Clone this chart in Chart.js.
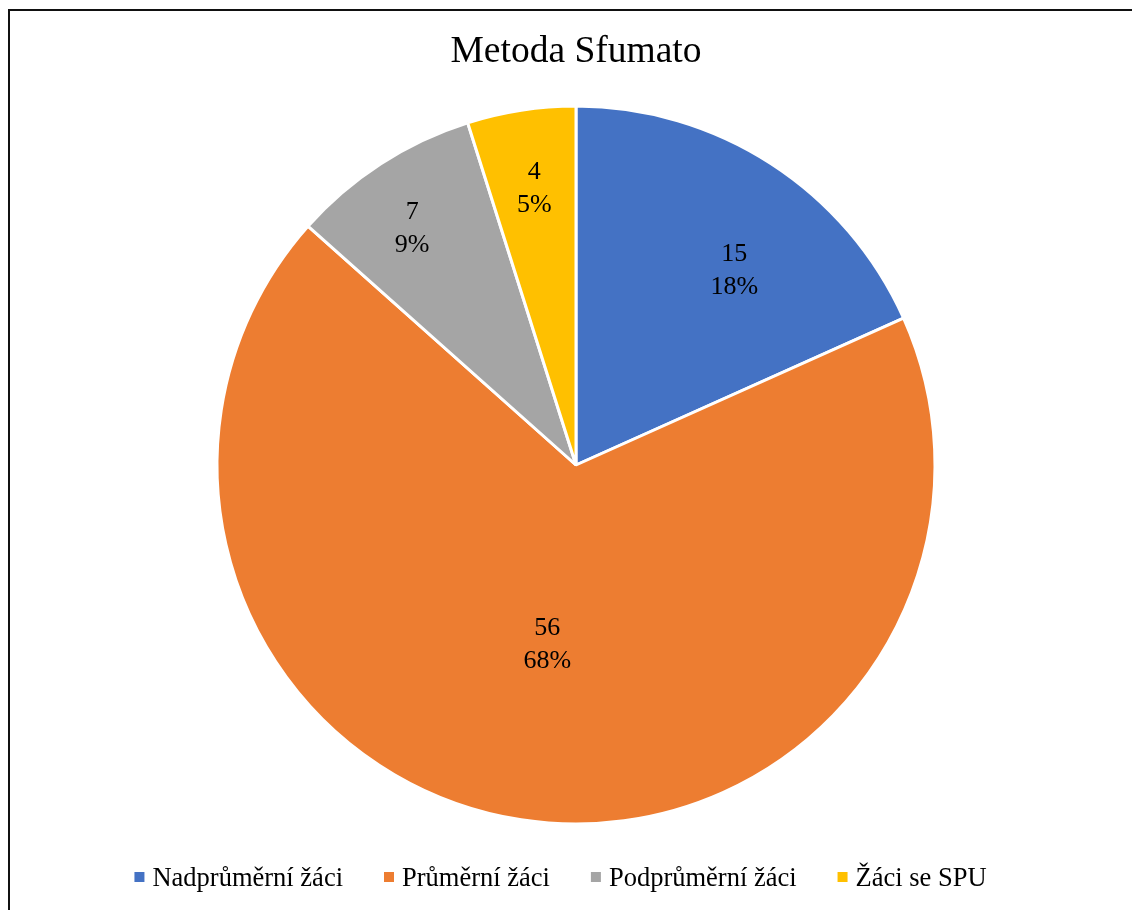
<!DOCTYPE html>
<html lang="cs">
<head>
    <meta charset="UTF-8">
    <title>Metoda Sfumato</title>
    <script src="https://cdn.jsdelivr.net/npm/chart.js"></script>
    <style>
        html, body {
            margin: 0;
            padding: 0;
            background: #fff;
            overflow: hidden;
        }
        #frame {
            position: absolute;
            left: 8px;
            top: 9px;
            width: 1200px;
            height: 1000px;
            border-left: 2px solid #111;
            border-top: 2px solid #111;
        }
        #chart-container {
            position: absolute;
            left: 0;
            top: 0;
            width: 1152px;
            height: 910px;
        }
    </style>
</head>
<body>
    <div id="frame"></div>
    <div id="chart-container">
        <canvas id="myChart" width="1152" height="910"></canvas>
    </div>

    <script>
        const categories = ['Nadprůměrní žáci', 'Průměrní žáci', 'Podprůměrní žáci', 'Žáci se SPU'];
        const values = [15, 56, 7, 4];
        const colors = ['#4472C4', '#ED7D31', '#A5A5A5', '#FFC000'];

        const serif = "'Liberation Serif', 'Times New Roman', serif";

        // where each "value / percent" label sits inside its slice (angle shift in degrees, fraction of radius)
        const labelPlacement = [
            { shift: 6.3, dist: 0.697 },
            { shift: 0.3, dist: 0.506 },
            { shift: -1.8, dist: 0.801 },
            { shift: 0.2, dist: 0.779 }
        ];

        const sliceLabels = {
            id: 'sliceLabels',
            afterDatasetsDraw(chart) {
                const ctx = chart.ctx;
                const data = chart.data.datasets[0].data;
                const total = data.reduce((a, b) => a + b, 0);
                const arcs = chart.getDatasetMeta(0).data;
                ctx.save();
                ctx.font = '26px ' + serif;
                ctx.fillStyle = '#000';
                ctx.textAlign = 'center';
                ctx.textBaseline = 'middle';
                arcs.forEach((arc, i) => {
                    const p = arc.getProps(['x', 'y', 'startAngle', 'endAngle', 'outerRadius'], true);
                    const place = labelPlacement[i];
                    const mid = (p.startAngle + p.endAngle) / 2 + place.shift * Math.PI / 180;
                    const r = p.outerRadius * place.dist;
                    const cx = p.x + Math.cos(mid) * r;
                    const cy = p.y + Math.sin(mid) * r;
                    const pct = Math.round(data[i] / total * 100) + '%';
                    ctx.fillText(String(data[i]), cx, cy - 16.5);
                    ctx.fillText(pct, cx, cy + 16.5);
                });
                ctx.restore();
            }
        };

        const bottomLegend = {
            id: 'bottomLegend',
            afterDraw(chart) {
                const ctx = chart.ctx;
                const labels = chart.data.labels;
                const fills = chart.data.datasets[0].backgroundColor;
                const box = 10, boxGap = 8, itemGap = 41, centerX = 560.5, baseline = 886;
                ctx.save();
                ctx.font = '26.5px ' + serif;
                const widths = labels.map(t => ctx.measureText(t).width);
                const total = widths.reduce((s, w) => s + box + boxGap + w, 0) + itemGap * (labels.length - 1);
                let x = centerX - total / 2;
                ctx.textAlign = 'left';
                ctx.textBaseline = 'alphabetic';
                labels.forEach((t, i) => {
                    ctx.fillStyle = fills[i];
                    ctx.fillRect(x, baseline - 14, box, box);
                    ctx.fillStyle = '#000';
                    ctx.fillText(t, x + box + boxGap, baseline);
                    x += box + boxGap + widths[i] + itemGap;
                });
                ctx.restore();
            }
        };

        const ctx = document.getElementById('myChart').getContext('2d');
        new Chart(ctx, {
            type: 'pie',
            data: {
                labels: categories,
                datasets: [{
                    data: values,
                    backgroundColor: colors,
                    borderColor: '#fff',
                    borderWidth: 3
                }]
            },
            options: {
                responsive: false,
                animation: false,
                radius: 359,
                layout: {
                    padding: { top: 0, bottom: 65, left: 0, right: 0 }
                },
                plugins: {
                    legend: { display: false },
                    tooltip: { enabled: false },
                    title: {
                        display: true,
                        text: 'Metoda Sfumato',
                        color: '#000',
                        font: { family: serif, size: 37.5, weight: 'normal', lineHeight: 1.2 },
                        padding: { top: 30, bottom: 10 }
                    }
                }
            },
            plugins: [sliceLabels, bottomLegend]
        });
    </script>
</body>
</html>
